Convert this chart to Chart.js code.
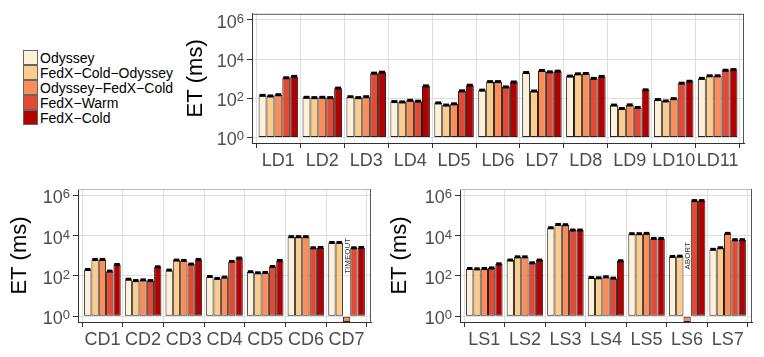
<!DOCTYPE html>
<html>
<head>
<meta charset="utf-8">
<script src="https://cdn.jsdelivr.net/npm/chart.js@4"></script>
<style>
  body { margin: 0; background: #fff; width: 764px; height: 357px; position: relative; overflow: hidden;
         font-family: "Liberation Sans", Arial, sans-serif; }
  canvas { position: absolute; }
  #legend { position: absolute; left: 23px; top: 50px; }
  .item { display: flex; align-items: center; height: 15px; font-size: 14px; color: #000; }
  .sw { width: 13px; height: 13px; border: 1px solid #666; margin-right: 2px; }
</style>
</head>
<body>
<div id="legend"></div>
<canvas id="top" width="764" height="175" style="left:0;top:0"></canvas>
<canvas id="cd" width="380" height="182" style="left:0;top:175px"></canvas>
<canvas id="ls" width="384" height="182" style="left:380px;top:175px"></canvas>
<script>
const seriesNames = ["Odyssey", "FedX\u2212Cold\u2212Odyssey", "Odyssey\u2212FedX\u2212Cold", "FedX\u2212Warm", "FedX\u2212Cold"];
const seriesColors = ["#FEF0D9", "#FDCC8A", "#FC8D59", "#E34A33", "#B30000"];

// y ticks: 10^0 .. 10^6 (base, exponent)
const yTicks = [1, 1e2, 1e4, 1e6];
const yTickExp = ["0", "2", "4", "6"];
const yMin = 0.52, yMax = 2.07e6;
const FAILED = yMin; // bar drawn below 10^0 for failed runs

const ldLabels = ["LD1", "LD2", "LD3", "LD4", "LD5", "LD6", "LD7", "LD8", "LD9", "LD10", "LD11"];
const ldOdyssey      = [141, 112, 120, 68, 58, 260, 2070, 1360, 45, 86, 1040];
const ldColdOdyssey  = [131, 108, 108, 65, 45, 710, 235, 1780, 30, 73, 1410];
const ldOdysseyCold  = [152, 112, 120, 79, 52, 710, 2620, 1850, 46, 96, 1410];
const ldWarm         = [1120, 108, 1920, 71, 240, 380, 2240, 1040, 34, 590, 2700];
const ldCold         = [1310, 330, 2150, 430, 465, 680, 2420, 1310, 270, 740, 2930];

const cdLabels = ["CD1", "CD2", "CD3", "CD4", "CD5", "CD6", "CD7"];
const cdOdyssey      = [210, 69, 195, 94, 162, 8900, 4600];
const cdColdOdyssey  = [660, 59, 615, 75, 144, 8900, 4600];
const cdOdysseyCold  = [660, 64, 590, 87, 149, 8900, FAILED];
const cdWarm         = [174, 59, 390, 525, 295, 2500, 2500];
const cdCold         = [370, 285, 660, 775, 590, 2600, 2600];

const lsLabels = ["LS1", "LS2", "LS3", "LS4", "LS5", "LS6", "LS7"];
const lsOdyssey      = [235, 615, 24700, 84, 12500, 930, 2100];
const lsColdOdyssey  = [225, 890, 36000, 81, 12500, 960, 2520];
const lsOdysseyCold  = [235, 890, 35000, 91, 13000, FAILED, 13000];
const lsWarm         = [250, 450, 19000, 78, 7300, 550000, 6300];
const lsCold         = [400, 615, 19000, 570, 7300, 550000, 6300];

const FONT = "'Liberation Sans', Arial, sans-serif";

// legend
const legend = document.getElementById("legend");
seriesNames.forEach((n, i) => {
  const d = document.createElement("div");
  d.className = "item";
  d.innerHTML = '<span class="sw" style="background:' + seriesColors[i] + '"></span><span>' + n + '</span>';
  legend.appendChild(d);
});

const capPlugin = {
  id: "caps",
  afterDatasetsDraw(chart) {
    const ctx = chart.ctx;
    ctx.save();
    ctx.fillStyle = "#000";
    chart.data.datasets.forEach((ds, di) => {
      chart.getDatasetMeta(di).data.forEach((bar, i) => {
        if (ds.data[i].y < 1) return;
        const w = bar.width * 0.75;
        ctx.fillRect(bar.x - w / 2, bar.y - 1.5, w, 3);
      });
    });
    ctx.restore();
  }
};

const framePlugin = {
  id: "frame",
  afterDraw(chart, args, opts) {
    const { left, right, top, bottom } = chart.chartArea;
    const ctx = chart.ctx;
    ctx.save();
    ctx.lineWidth = 1;
    ctx.strokeStyle = opts.topColor;
    ctx.beginPath(); ctx.moveTo(left, top + 0.5); ctx.lineTo(right, top + 0.5); ctx.stroke();
    ctx.strokeStyle = "#555";
    ctx.beginPath(); ctx.moveTo(right - 0.5, top); ctx.lineTo(right - 0.5, bottom); ctx.stroke();
    ctx.restore();
  }
};

// y tick labels with a real superscript exponent
const powerLabels = {
  id: "powerLabels",
  afterDraw(chart) {
    const sc = chart.scales.y;
    const ctx = chart.ctx;
    const xRight = sc.right - 5 - 3;
    ctx.save();
    ctx.fillStyle = "#4d4d4d";
    ctx.textAlign = "right";
    sc.ticks.forEach((t, i) => {
      const y = sc.getPixelForValue(t.value);
      const exp = yTickExp[yTicks.indexOf(t.value)];
      ctx.font = "13px " + FONT;
      ctx.textBaseline = "alphabetic";
      ctx.fillText(exp, xRight, y + 3);
      const w = ctx.measureText(exp).width;
      ctx.font = "18px " + FONT;
      ctx.fillText("10", xRight - w, y + 8);
    });
    ctx.restore();
  }
};

const failPlugin = {
  id: "failLabel",
  afterDatasetsDraw(chart, args, opts) {
    if (!opts.text) return;
    const bar = chart.getDatasetMeta(opts.series).data[opts.index];
    const y = chart.scales.y.getPixelForValue(1000);
    const ctx = chart.ctx;
    ctx.save();
    ctx.translate(bar.x + 1, y);
    ctx.rotate(-Math.PI / 2);
    ctx.textAlign = "center";
    ctx.textBaseline = "middle";
    ctx.font = "8px " + FONT;
    ctx.fillStyle = "#333";
    ctx.fillText(opts.text, 0, 0);
    ctx.restore();
  }
};

function makeChart(id, labels, series, box, fail, topColor) {
  const datasets = series.map((vals, s) => ({
    label: seriesNames[s],
    data: vals.map((v, i) => ({ x: i, y: v })),
    backgroundColor: seriesColors[s],
    borderColor: "#222",
    borderWidth: 1,
    borderSkipped: false,
    base: 1,
    categoryPercentage: 0.9,
    barPercentage: 1
  }));
  const canvas = document.getElementById(id);
  return new Chart(canvas, {
    type: "bar",
    data: { datasets },
    plugins: [capPlugin, framePlugin, failPlugin, powerLabels],
    options: {
      responsive: false,
      animation: false,
      devicePixelRatio: 1,
      layout: { padding: { left: box.padLeft, right: box.padRight, top: box.padTop, bottom: 0 } },
      plugins: {
        legend: { display: false },
        tooltip: { enabled: false },
        frame: { topColor },
        failLabel: fail || {}
      },
      scales: {
        x: {
          type: "linear",
          min: -0.6,
          max: labels.length - 0.4,
          offset: false,
          afterBuildTicks: (sc) => { sc.ticks = labels.map((_, i) => ({ value: i })); },
          afterFit: (sc) => { sc.height = box.xHeight; },
          ticks: {
            autoSkip: false, maxRotation: 0, padding: 2,
            color: "#4d4d4d",
            font: { size: 18, family: FONT },
            callback: (v) => labels[v]
          },
          grid: { color: "#dedede", tickColor: "#333", tickLength: 5, lineWidth: 1 },
          border: { display: true, color: "#333", width: 1 }
        },
        y: {
          type: "logarithmic",
          min: yMin,
          max: yMax,
          afterBuildTicks: (sc) => { sc.ticks = yTicks.map(v => ({ value: v })); },
          afterFit: (sc) => { sc.width = box.yWidth; },
          ticks: {
            padding: 3,
            color: "rgba(0,0,0,0)",
            font: { size: 18, family: FONT },
            callback: (v) => "10" + yTickExp[yTicks.indexOf(v)]
          },
          grid: { color: "#dedede", tickColor: "#333", tickLength: 5, lineWidth: 1 },
          border: { display: true, color: "#333", width: 1 },
          title: {
            display: true, text: "ET (ms)", color: "#000",
            font: { size: 22, family: FONT },
            padding: { top: 0, bottom: 0 }
          }
        }
      }
    }
  });
}

makeChart("top", ldLabels, [ldOdyssey, ldColdOdyssey, ldOdysseyCold, ldWarm, ldCold],
  { padLeft: 183, padRight: 20, padTop: 11, yWidth: 69, xHeight: 32 }, null, "#555");
makeChart("cd", cdLabels, [cdOdyssey, cdColdOdyssey, cdOdysseyCold, cdWarm, cdCold],
  { padLeft: 7, padRight: 9, padTop: 14, yWidth: 71, xHeight: 35 },
  { text: "TIMEOUT", series: 2, index: 6 }, "#bbb");
makeChart("ls", lsLabels, [lsOdyssey, lsColdOdyssey, lsOdysseyCold, lsWarm, lsCold],
  { padLeft: 7, padRight: 12, padTop: 14, yWidth: 73, xHeight: 35 },
  { text: "ABORT", series: 2, index: 5 }, "#bbb");
</script>
</body>
</html>
